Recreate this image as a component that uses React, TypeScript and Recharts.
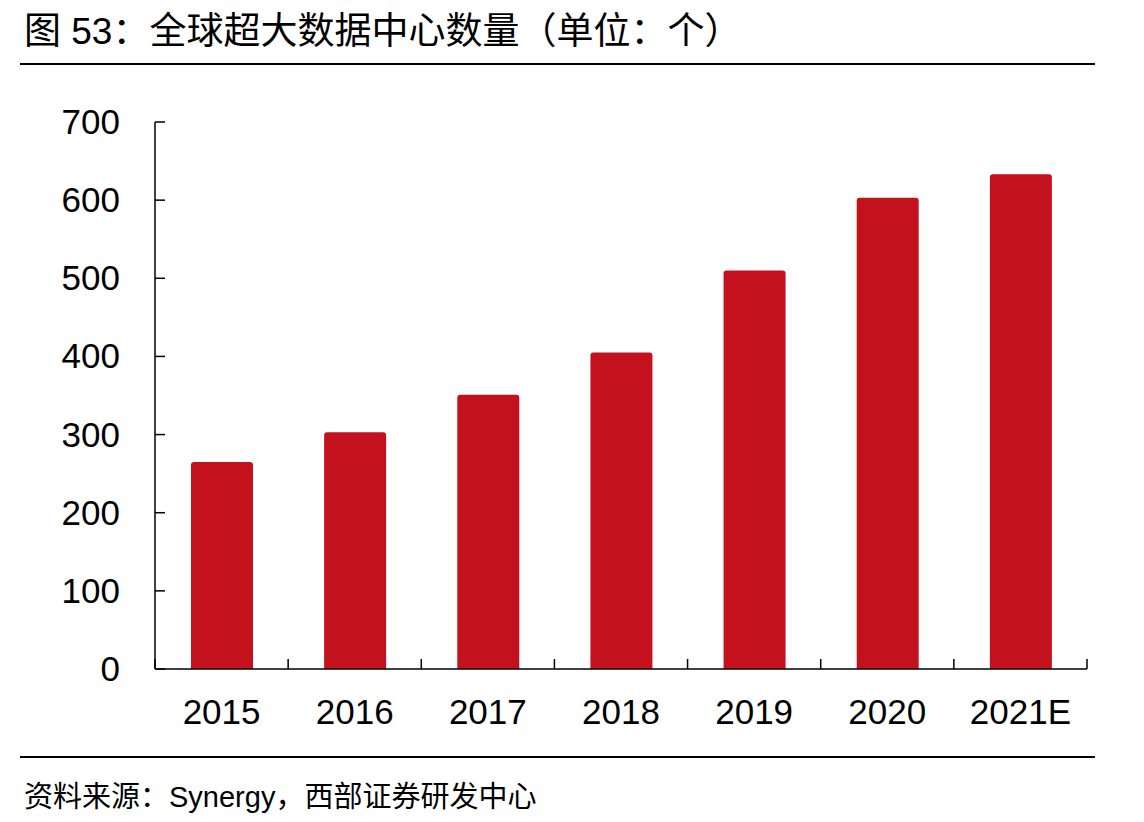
import React from 'react';
import { BarChart, Bar, XAxis, YAxis } from 'recharts';

const years = ['2015', '2016', '2017', '2018', '2019', '2020', '2021E'];
const counts = [265, 303, 351, 405, 510, 603, 633];
const yTicks = [0, 100, 200, 300, 400, 500, 600, 700];

const data = years.map((year, i) => ({ year, count: counts[i] }));

const latin = '"Liberation Sans", Arial, sans-serif';
const cjk = '"Liberation Sans", "Noto Sans CJK SC", sans-serif';

// plot geometry
const chartW = 1144;
const chartH = 822;
const margin = { top: 122, right: 57, bottom: 93, left: 0 };
const yAxisW = 155;
const band = (chartW - margin.left - margin.right - yAxisW) / years.length;

const YTick = ({ x, y, payload }: any) => (
  <g>
    <line x1={x} y1={y} x2={x + 10} y2={y} stroke="#000" strokeWidth={1.5} />
    <text x={x - 35} y={y} dy={12} textAnchor="end" fontSize={35} fontFamily={latin} fill="#000">
      {payload.value}
    </text>
  </g>
);

// category label plus the short upward ticks at band edges
const XTick = ({ x, y, payload, index }: any) => {
  const right = x + band / 2;
  const left = x - band / 2;
  return (
    <g>
      {index === 0 && <line x1={left} y1={y} x2={left} y2={y - 10} stroke="#000" strokeWidth={1.5} />}
      <line x1={right} y1={y} x2={right} y2={y - 10} stroke="#000" strokeWidth={1.5} />
      <text x={x} y={y + 55} textAnchor="middle" fontSize={35} fontFamily={latin} fill="#000">
        {payload.value}
      </text>
    </g>
  );
};

export default function App() {
  return (
    <div style={{ position: 'absolute', left: 0, top: 0, width: 1144, height: 822, background: '#fff' }}>
      <div
        style={{
          position: 'absolute',
          left: 24,
          top: 1,
          fontSize: 37,
          fontFamily: cjk,
          color: '#000',
          whiteSpace: 'nowrap',
        }}
      >
        图 53：全球超大数据中心数量（单位：个）
      </div>
      <div style={{ position: 'absolute', left: 20, top: 63, width: 1075, height: 2, background: '#000' }} />

      <BarChart width={chartW} height={chartH} data={data} margin={margin}>
        <XAxis
          dataKey="year"
          height={60}
          tickSize={0}
          tickLine={false}
          tickMargin={0}
          interval={0}
          axisLine={{ stroke: '#000', strokeWidth: 1.5 }}
          tick={<XTick />}
        />
        <YAxis
          domain={[0, 700]}
          ticks={yTicks}
          interval={0}
          width={yAxisW}
          tickSize={0}
          tickMargin={0}
          axisLine={{ stroke: '#000', strokeWidth: 1.5 }}
          tick={<YTick />}
        />
        <Bar dataKey="count" fill="#C3111D" barSize={62} radius={[3, 3, 0, 0]} isAnimationActive={false} />
      </BarChart>

      <div style={{ position: 'absolute', left: 20, top: 756, width: 1075, height: 2, background: '#000' }} />
      <div
        style={{
          position: 'absolute',
          left: 24,
          top: 773,
          fontSize: 29,
          fontFamily: cjk,
          color: '#000',
          whiteSpace: 'nowrap',
        }}
      >
        资料来源：Synergy，西部证券研发中心
      </div>
    </div>
  );
}
